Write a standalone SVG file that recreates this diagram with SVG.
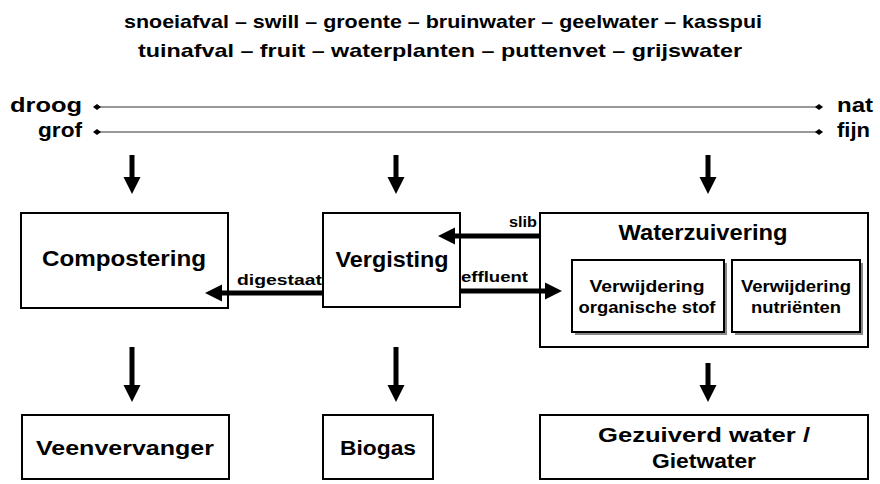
<svg xmlns="http://www.w3.org/2000/svg" width="880" height="484" viewBox="0 0 880 484">
<style>
text{font-family:"Liberation Sans",Arial,sans-serif;font-weight:bold;fill:#000}
.box{fill:#fff;stroke:#000;stroke-width:2}
.shadow{fill:#888;stroke:none}
.big{font-size:22px}
.mid{font-size:20px}
.small{font-size:16px}
.lab{font-size:15px}
.top{font-size:19px}
.scale{stroke:#333;stroke-width:1.2;marker-start:url(#dia);marker-end:url(#dia)}
.arr{stroke:#000;stroke-width:5;fill:none;marker-end:url(#head)}
</style>
<defs>
<marker id="head" markerUnits="userSpaceOnUse" markerWidth="18" markerHeight="18" refX="8" refY="8.5" orient="auto" overflow="visible">
<path d="M0,0 L17,8.5 L0,17 z" fill="#000"/>
</marker>
<marker id="dia" markerUnits="userSpaceOnUse" markerWidth="8" markerHeight="8" refX="4" refY="4" orient="auto" overflow="visible">
<path d="M0,4 L4,1 L8,4 L4,7 z" fill="#000"/>
</marker>
</defs>

<g id="inputs">
<text class="top" x="443" y="28" text-anchor="middle" textLength="638" lengthAdjust="spacingAndGlyphs">snoeiafval – swill – groente – bruinwater – geelwater – kasspui</text>
<text class="top" x="440" y="57" text-anchor="middle" textLength="604" lengthAdjust="spacingAndGlyphs">tuinafval – fruit – waterplanten – puttenvet – grijswater</text>
</g>

<g id="scales">
<line class="scale" x1="97" y1="107" x2="819" y2="107"/>
<line class="scale" x1="97" y1="132" x2="819" y2="132"/>
<text class="mid" x="82" y="112" text-anchor="end" textLength="72" lengthAdjust="spacingAndGlyphs">droog</text>
<text class="mid" x="82" y="137" text-anchor="end" textLength="44" lengthAdjust="spacingAndGlyphs">grof</text>
<text class="mid" x="837" y="112" textLength="36" lengthAdjust="spacingAndGlyphs">nat</text>
<text class="mid" x="837" y="137" textLength="33" lengthAdjust="spacingAndGlyphs">fijn</text>
</g>

<g id="compostering">
<rect class="box" x="21" y="213" width="207" height="95"/>
<text class="big" x="124" y="266" text-anchor="middle" textLength="164" lengthAdjust="spacingAndGlyphs">Compostering</text>
</g>

<g id="vergisting">
<rect class="box" x="323" y="213" width="137" height="94"/>
<text class="big" x="392" y="267" text-anchor="middle" textLength="113" lengthAdjust="spacingAndGlyphs">Vergisting</text>
</g>

<g id="waterzuivering">
<rect class="box" x="540" y="213" width="328" height="134"/>
<text class="big" x="703" y="240" text-anchor="middle" textLength="169" lengthAdjust="spacingAndGlyphs">Waterzuivering</text>
</g>

<g id="verwijdering-organisch">
<rect class="shadow" x="575" y="263" width="152" height="72"/>
<rect class="box" x="572" y="260" width="152" height="72"/>
<text class="small" x="647" y="292" text-anchor="middle" textLength="115" lengthAdjust="spacingAndGlyphs">Verwijdering</text>
<text class="small" x="647" y="313" text-anchor="middle" textLength="137" lengthAdjust="spacingAndGlyphs">organische stof</text>
</g>

<g id="verwijdering-nutrienten">
<rect class="shadow" x="735" y="263" width="128" height="72"/>
<rect class="box" x="732" y="260" width="128" height="72"/>
<text class="small" x="796" y="292" text-anchor="middle" textLength="110" lengthAdjust="spacingAndGlyphs">Verwijdering</text>
<text class="small" x="796" y="313" text-anchor="middle" textLength="90" lengthAdjust="spacingAndGlyphs">nutriënten</text>
</g>

<g id="veenvervanger">
<rect class="box" x="22" y="415" width="207" height="64"/>
<text class="mid" x="125" y="455" text-anchor="middle" textLength="178" lengthAdjust="spacingAndGlyphs">Veenvervanger</text>
</g>

<g id="biogas">
<rect class="box" x="323" y="415" width="110" height="64"/>
<text class="mid" x="378" y="455" text-anchor="middle" textLength="76" lengthAdjust="spacingAndGlyphs">Biogas</text>
</g>

<g id="gezuiverd-water">
<rect class="box" x="540" y="415" width="328" height="64"/>
<text class="mid" x="704" y="442" text-anchor="middle" textLength="212" lengthAdjust="spacingAndGlyphs">Gezuiverd water /</text>
<text class="mid" x="704" y="468" text-anchor="middle" textLength="104" lengthAdjust="spacingAndGlyphs">Gietwater</text>
</g>

<g id="connectors">
<line class="arr" x1="132" y1="155" x2="132" y2="185"/>
<line class="arr" x1="396" y1="155" x2="396" y2="185"/>
<line class="arr" x1="708" y1="155" x2="708" y2="185"/>
<line class="arr" x1="539" y1="236" x2="447" y2="236"/>
<line class="arr" x1="460" y1="291" x2="553" y2="291"/>
<line class="arr" x1="323" y1="293" x2="214" y2="293"/>
<line class="arr" x1="132" y1="347" x2="132" y2="393"/>
<line class="arr" x1="396" y1="347" x2="396" y2="393"/>
<line class="arr" x1="708" y1="363" x2="708" y2="393"/>
<text class="lab" x="537" y="227" text-anchor="end" textLength="28" lengthAdjust="spacingAndGlyphs">slib</text>
<text class="lab" x="461" y="282" textLength="67" lengthAdjust="spacingAndGlyphs">effluent</text>
<text class="lab" x="322" y="285" text-anchor="end" textLength="85" lengthAdjust="spacingAndGlyphs">digestaat</text>
</g>
</svg>
